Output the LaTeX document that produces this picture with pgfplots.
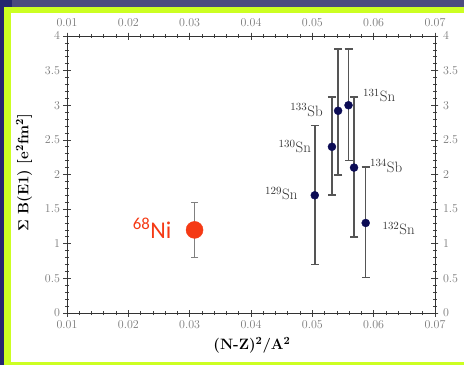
\documentclass[border=0pt]{standalone}
\usepackage[no-math]{fontspec}
\usepackage{pgfplots}
\pgfplotsset{compat=1.18}
\usepackage{pgfplotstable}
\newfontfamily\nifont{Carlito}
\definecolor{navyband}{HTML}{25266F}
\definecolor{purpleband}{HTML}{4C4B7F}
\definecolor{framey}{HTML}{CCFF22}
\definecolor{dotnavy}{HTML}{0C0C55}
\definecolor{nired}{HTML}{F53A15}
\definecolor{errgray}{HTML}{555555}
\definecolor{ticklab}{HTML}{7A7A7A}
\definecolor{isotxt}{HTML}{333333}

\pgfplotstableread{
x y ep em top bot
0.0504 1.70 1.01 1.00 2.71 0.70
0.0532 2.40 0.72 0.70 3.12 1.70
0.0542 2.92 0.89 0.93 3.81 1.99
0.0559 3.00 0.81 0.80 3.81 2.20
0.0568 2.10 1.02 1.00 3.12 1.10
0.0587 1.30 0.81 0.79 2.11 0.51
}\sndata
\pgfplotstableread{
x y ep em top bot
0.0308 1.20 0.40 0.40 1.60 0.80
}\nidata

\newcommand{\isofont}{\fontsize{15}{17}\selectfont}

\begin{document}
\begin{tikzpicture}
\useasboundingbox (0pt,0pt) rectangle (464pt,365pt);
\fill[navyband] (0pt,0pt) rectangle (464pt,365pt);
\fill[purpleband] (12pt,358pt) rectangle (464pt,365pt);
\fill[framey] (4pt,0pt) rectangle (464pt,358pt);
\fill[white] (11pt,3pt) rectangle (464pt,352pt);
\pgfplotsset{
  common/.style={
    scale only axis, width=368pt, height=277pt,
    at={(67pt,52pt)}, anchor=south west,
    xmin=0.01, xmax=0.07, ymin=0, ymax=4,
    xtick={0.01,0.02,...,0.07}, ytick={0,0.5,...,4},
    minor x tick num=4, minor y tick num=4,
    scaled x ticks=false,
    xticklabel style={/pgf/number format/fixed, /pgf/number format/precision=2, /pgf/number format/fixed zerofill},
    yticklabel style={/pgf/number format/fixed, /pgf/number format/precision=1},
    tick label style={font=\fontsize{12}{14}\selectfont, text=ticklab},
    tick align=center,
    major tick length=7pt, minor tick length=4pt,
    every tick/.append style={black!75, line width=0.7pt},
    axis line style={black!80, line width=0.8pt},
    clip=false,
  }
}
\begin{axis}[common, xticklabel pos=right, yticklabel pos=right,
  x tick label style={yshift=2pt}, y tick label style={xshift=1pt}]
\end{axis}
\begin{axis}[common, x tick label style={yshift=-1pt}]
\addplot+[only marks, mark=*, mark size=4pt, mark options={fill=dotnavy, draw=dotnavy},
  error bars/.cd, y dir=both, y explicit,
  error bar style={line width=1.6pt, errgray},
  error mark options={rotate=90, mark size=4pt, line width=1.6pt, errgray}]
  table[x=x, y=y, y error plus=ep, y error minus=em] {\sndata};
\addplot[only marks, mark=-, mark size=4pt, errgray, mark options={line width=1.6pt}]
  table[x=x, y=top] {\sndata};
\addplot[only marks, mark=-, mark size=4pt, errgray, mark options={line width=1.6pt}]
  table[x=x, y=bot] {\sndata};
\addplot+[only marks, mark=*, mark size=8.5pt, mark options={fill=nired, draw=nired},
  error bars/.cd, y dir=both, y explicit,
  error bar style={line width=0.8pt, gray},
  error mark options={rotate=90, mark size=3.5pt, line width=0.8pt, gray}]
  table[x=x, y=y, y error plus=ep, y error minus=em] {\nidata};
\addplot[only marks, mark=-, mark size=3.5pt, gray, mark options={line width=1pt}]
  table[x=x, y=top] {\nidata};
\addplot[only marks, mark=-, mark size=3.5pt, gray, mark options={line width=1pt}]
  table[x=x, y=bot] {\nidata};
\end{axis}
% labels: x_pt = 67 + (x-0.01)*6133.3 ; y_pt = 52 + y*69.25
\node[anchor=west, text=isotxt, font=\isofont] at (359.5pt,269.4pt) {$^{131}$Sn};
\node[anchor=east, text=isotxt, font=\isofont] at (326.2pt,254.9pt) {$^{133}$Sb};
\node[anchor=east, text=isotxt, font=\isofont] at (314.5pt,218.2pt) {$^{130}$Sn};
\node[anchor=east, text=isotxt, font=\isofont] at (301.0pt,171.1pt) {$^{129}$Sn};
\node[anchor=west, text=isotxt, font=\isofont] at (366.5pt,198.8pt) {$^{134}$Sb};
\node[anchor=west, text=isotxt, font=\isofont] at (379.0pt,136.5pt) {$^{132}$Sn};
\node[anchor=east, text=nired, font=\nifont\fontsize{24}{28}\selectfont] at (175pt,136.5pt) {\textsuperscript{68}Ni};
\node[font=\fontsize{15}{17}\selectfont\bfseries] at (252pt,20pt) {(N-Z)$^{\mathbf{2}}$/A$^{\mathbf{2}}$};
\node[rotate=90, font=\fontsize{15}{17}\selectfont\bfseries] at (24pt,192pt) {$\mathbf{\Sigma}$ B(E1) {[}e$^{\mathbf{2}}$fm$^{\mathbf{2}}${]}};
\end{tikzpicture}
\end{document}
